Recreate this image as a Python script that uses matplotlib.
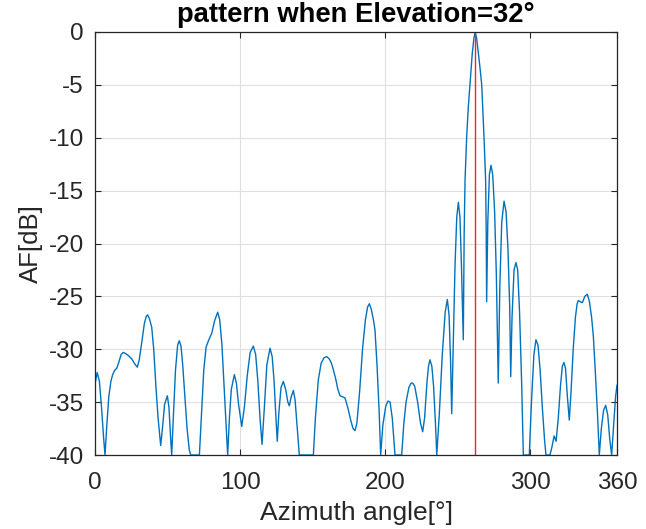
import matplotlib
matplotlib.use("Agg")
import matplotlib.pyplot as plt

## azimuth angle [deg] and array factor [dB]
az = [0, 1.5, 3, 4.5, 6, 6.9, 8, 9.5, 11, 12.2, 13.5, 15, 16.5, 18, 19.5, 21, 23, 25.3, 27.5, 29.2,
      30.5, 32.2, 34, 35.3, 36.3, 37.5, 39.1, 40.5, 42, 43.5, 45.3, 46.5, 48, 49.9, 51, 52.2, 52.9,
      54, 55.5, 57, 58.1, 59.3, 60.5, 62, 63.5, 65, 66, 72, 73.5, 75, 76.6, 78.5, 80.5, 82.5, 84.6,
      86, 87.5, 89, 90.5, 91.5, 92.7, 94, 96.1, 97.5, 99, 101.2, 103, 105, 107, 109.2, 110.8, 112.3,
      113.8, 115.2, 116.8, 118.5, 120.7, 122.2, 123.5, 124.8, 125.7, 126.8, 128.3, 129.9, 131.5, 133,
      134, 135.3, 136.8, 138, 139.5, 140.9, 150.6, 152, 154, 156, 158, 159.8, 161.5, 163, 164.3, 166,
      167.5, 169, 170.8, 172.4, 174.5, 176.5, 178, 179.3, 180.6, 182.5, 184.5, 186.5, 188, 189.2,
      190.5, 192, 193.1, 194.5, 196, 197, 198.5, 200.5, 202, 203.5, 205, 206.9, 211.5, 213, 214.5,
      216.5, 218, 219.1, 220.5, 222.5, 224.5, 226, 227.3, 229, 230, 231, 232.3, 233.5, 234.8, 235.7,
      237.5, 239.5, 241.5, 243, 244.2, 245.2, 246, 247, 248.3, 249.5, 250.6, 251.7, 252.7, 254,
      254.6, 255.2, 256.3, 257.4, 258.6, 260.2, 261.3, 262.2, 263.2, 264.4, 265.6, 266.7, 268.3,
      269.4, 269.8, 270.1, 270.9, 272, 273.1, 274.3, 275.6, 276.8, 278.1, 279.2, 280.5, 282.1, 283.5,
      284.8, 286, 286.7, 287.6, 289, 290.3, 291.5, 292.8, 294.2, 295.4, 299.5, 301, 302.7, 304.1,
      305.5, 307, 308.5, 310, 311, 313.8, 315.2, 316.6, 318, 319.5, 321, 322.3, 323.4, 324.5, 325.8,
      327.1, 328.3, 329.8, 331.3, 332.5, 333.3, 334.7, 336.1, 337.8, 339.5, 341, 342.5, 343.7, 345,
      346.5, 347.8, 349.2, 350.7, 352.2, 353.6, 355, 356.3, 357.5, 359, 360]
af_db = [-33.3, -32.2, -33.0, -35.5, -38.5, -40, -37.5, -34.5, -33.0, -32.4, -32.0, -31.8, -31.2, -30.5,
         -30.3, -30.4, -30.6, -30.9, -31.4, -31.7, -31.0, -29.4, -27.6, -26.9, -26.75, -27.1, -27.9,
         -30, -33.5, -36.5, -39.1, -37.5, -35.2, -34.4, -35.5, -38.5, -40, -36.5, -32, -29.6, -29.2,
         -29.7, -31.5, -34.5, -37.5, -39.5, -40, -40, -36, -32, -29.8, -29.1, -28.5, -27.3, -26.5,
         -27.2, -29.5, -33.5, -37.5, -40, -36.5, -33.8, -32.4, -33.2, -35.2, -37.3, -35.5, -32.5,
         -30.3, -29.7, -30.5, -33, -36.5, -39, -35.5, -31.5, -29.9, -30.7, -33, -36.5, -38.7, -36,
         -33.6, -33.05, -33.8, -35, -35.35, -34.5, -33.9, -34.8, -37.5, -40, -40, -36.5, -32.9, -31.3,
         -30.8, -30.7, -30.9, -31.3, -31.9, -32.8, -33.8, -34.4, -34.5, -34.6, -35.6, -36.8, -37.5,
         -37.7, -37.0, -34.0, -30, -27.2, -26.0, -25.7, -26.2, -27.2, -28.2, -31.5, -36, -40, -37.2,
         -35.4, -34.9, -35.0, -36.5, -40, -40, -37, -35, -33.6, -33.2, -33.2, -33.5, -35, -37, -37.8,
         -36.5, -33, -31.6, -31.0, -31.6, -33.5, -37, -40, -36, -30.5, -26.5, -25.3, -26.8, -31,
         -36.1, -30, -22, -17.5, -16.1, -17.5, -22, -29.1, -19, -14, -10, -7.2, -5, -2.0, -0.6, 0,
         -0.6, -2, -3.5, -5, -10, -14, -19, -25.5, -18, -13.5, -12.6, -13.5, -17, -23, -33.2, -24,
         -18, -16.0, -17, -20.5, -26, -32.6, -27, -22.5, -21.8, -22.5, -26.5, -33, -40, -40, -35,
         -30.5, -29.1, -29.6, -32, -35.5, -38.5, -40, -40, -39.2, -38.2, -38.7, -36.5, -33.5, -31.6,
         -31.25, -31.8, -34.5, -36.7, -34, -30, -27, -25.7, -25.4, -25.5, -25.6, -25.0, -24.8, -25.5,
         -27, -28.8, -32, -36, -40, -37.5, -35.8, -35.3, -36.2, -38.5, -40, -37.5, -34.5, -33.4]

steer_az = 262.2
x_ticks = [0, 100, 200, 300, 360]
y_ticks = [-40, -35, -30, -25, -20, -15, -10, -5, 0]

plt.rcParams['font.family'] = ['Liberation Sans', 'DejaVu Sans']

fig = plt.figure(figsize=(6.46, 5.29), dpi=100)
ax = fig.add_axes([95 / 646, 74 / 529, 522 / 646, 423 / 529])

ax.plot(az, af_db, color='#0072BD', linewidth=1.0)
ax.plot([steer_az, steer_az], [-40, 0], color='#FF2020', linewidth=1.0)

ax.set_xlim(0, 360)
ax.set_ylim(-40, 0)
ax.set_xticks(x_ticks)
ax.set_yticks(y_ticks)
ax.set_yticklabels([str(v) for v in y_ticks])
ax.grid(True, color='#DFDFDF', linewidth=0.8)
ax.set_axisbelow(True)
ax.tick_params(direction='in', top=True, right=True, length=4, width=0.8,
               colors='#262626', labelsize=17.5)
ax.tick_params(axis='x', pad=12)
ax.tick_params(axis='y', pad=8)
for s in ax.spines.values():
    s.set_color('#262626')
    s.set_linewidth(0.9)

ax.set_title('pattern when Elevation=32°', fontsize=19.7, fontweight='bold', pad=7)
ax.set_xlabel('Azimuth angle[°]', fontsize=19, color='#262626', labelpad=5)
ax.set_ylabel('AF[dB]', fontsize=18.5, color='#262626', labelpad=4)

fig.savefig('out.png', dpi=100)
